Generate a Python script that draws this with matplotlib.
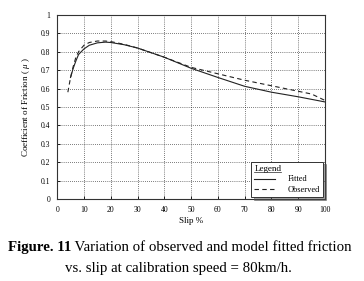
import matplotlib
matplotlib.use("Agg")
import matplotlib.pyplot as plt
from matplotlib.lines import Line2D

plt.rcParams['font.family'] = ['Liberation Serif', 'DejaVu Serif']
plt.rcParams['mathtext.fontset'] = 'custom'
plt.rcParams['mathtext.rm'] = 'Liberation Serif'
plt.rcParams['mathtext.it'] = 'Liberation Serif:italic'

# fitted curve
slip_fit = [5, 6, 7, 8, 10, 12, 15, 18, 20, 25, 30, 40, 50, 60, 70, 80, 90, 100]
mu_fit = [0.66, 0.71, 0.75, 0.785, 0.815, 0.835, 0.848, 0.852, 0.850, 0.838, 0.82,
          0.77, 0.71, 0.66, 0.612, 0.58, 0.555, 0.527]

# observed curve
slip_obs = [4, 5, 6, 7, 8, 10, 12, 15, 18, 20, 25, 30, 40, 50, 60, 70, 80, 90, 95, 100]
mu_obs = [0.58, 0.66, 0.72, 0.77, 0.80, 0.835, 0.85, 0.858, 0.858, 0.855, 0.84,
          0.82, 0.77, 0.715, 0.68, 0.645, 0.615, 0.585, 0.57, 0.535]

xticks = list(range(0, 101, 10))
yticks = [0, 0.1, 0.2, 0.3, 0.4, 0.5, 0.6, 0.7, 0.8, 0.9, 1]

fig = plt.figure(figsize=(3.64, 2.81), dpi=100)
ax = fig.add_axes([0.157, 0.292, 0.736, 0.655])

ax.plot(slip_fit, mu_fit, color='#222222', lw=0.8, label='Fitted')
ax.plot(slip_obs, mu_obs, color='#222222', lw=0.8, dashes=(4, 3), label='Observed')

ax.set_xlim(0, 100)
ax.set_ylim(0, 1)
ax.set_xticks(xticks)
ax.set_yticks(yticks)
ax.set_xticklabels([str(v) for v in xticks])
ax.set_yticklabels(['0' if v == 0 else ('1' if v == 1 else str(v)) for v in yticks])
ax.tick_params(direction='in', length=2, width=0.6, labelsize=5.5, pad=5)
ax.grid(True, color='black', linestyle=(0, (1, 2)), lw=0.5)
for s in ax.spines.values():
    s.set_linewidth(0.8)
    s.set_color('#333333')

ax.set_xlabel('Slip %', fontsize=6.5, labelpad=2)
ax.set_ylabel(r'Coefficient of Friction ( $\mathit{\mu}$ )', fontsize=6.5, labelpad=6)

leg = ax.legend(loc='lower right', title='Legend', fontsize=6,
                title_fontsize=6.5, frameon=True, fancybox=False, shadow=True,
                borderaxespad=0.2, handlelength=2.5, handletextpad=1.5,
                labelspacing=0.3, borderpad=0.4, alignment='left')
leg.get_frame().set_edgecolor('#333333')
leg.get_frame().set_linewidth(0.7)

t1 = fig.text(0.022, 0.107, 'Figure. 11', fontsize=10.7, fontweight='bold', ha='left', va='baseline')
ax.annotate(' Variation of observed and model fitted friction', xy=(1, 0), xycoords=t1,
            fontsize=10.7, ha='left', va='bottom', annotation_clip=False)
fig.text(0.49, 0.032, 'vs. slip at calibration speed = 80km/h.', fontsize=10.7,
         ha='center', va='baseline')

# underline the legend title
fig.canvas.draw()
bb = leg.get_title().get_window_extent().transformed(fig.transFigure.inverted())
fig.add_artist(Line2D([bb.x0, bb.x1], [bb.y0 + 0.004, bb.y0 + 0.004], color='#222222',
                      lw=0.5, transform=fig.transFigure))

fig.savefig('out.png', dpi=100)
